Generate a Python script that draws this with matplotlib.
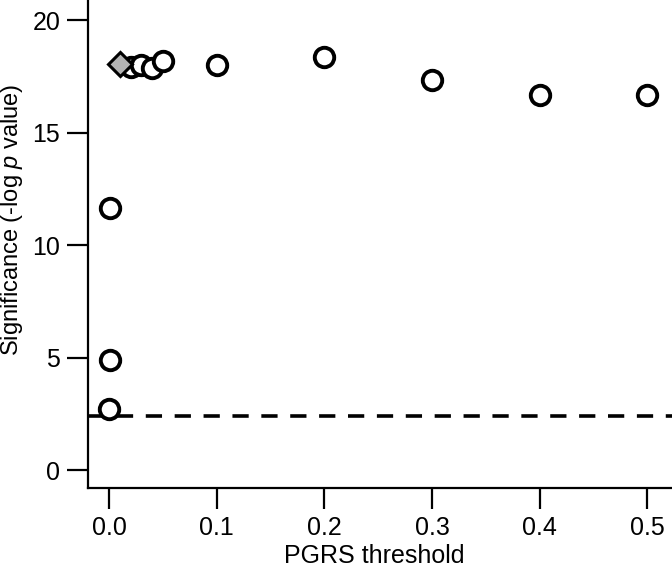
import matplotlib
matplotlib.use('Agg')
from matplotlib import pyplot as plt

plt.rcParams['font.family'] = ['Liberation Sans', 'DejaVu Sans']
plt.rcParams['mathtext.fontset'] = 'custom'
plt.rcParams['mathtext.it'] = 'Liberation Sans:italic'
plt.rcParams['mathtext.rm'] = 'Liberation Sans'

# PGRS thresholds and significance (-log10 p)
thr = [0.0001, 0.0005, 0.001, 0.02, 0.03, 0.04, 0.05, 0.1, 0.2, 0.3, 0.4, 0.5]
sig = [2.71, 4.89, 11.64, 17.9, 18.0, 17.87, 18.2, 18.0, 18.36, 17.33, 16.67, 16.67]
best_thr = [0.01]
best_sig = [18.05]
cutoff = 2.4

fig = plt.figure(figsize=(6.72, 5.69), dpi=100)
ax = fig.add_axes([88/672, 81/569, 584/672, 488/569])

ax.axhline(cutoff, color='black', lw=2.6, ls=(0, (4.5, 3.5)), zorder=1)
ax.plot(thr, sig, 'o', ms=14, mfc='white', mec='black', mew=2.8, zorder=3)
ax.plot(best_thr, best_sig, 'D', ms=12, mfc='#b3b3b3', mec='black', mew=2.2, zorder=4)

ax.set_xlim(-0.0195, 0.523)
ax.set_ylim(-0.8, 20.9)
ax.set_xticks([0.0, 0.1, 0.2, 0.3, 0.4, 0.5])
ax.set_xticklabels(['0.0', '0.1', '0.2', '0.3', '0.4', '0.5'])
ax.set_yticks([0, 5, 10, 15, 20])

for s in ['top', 'right']:
    ax.spines[s].set_visible(False)
for s in ['left', 'bottom']:
    ax.spines[s].set_linewidth(1.6)
ax.tick_params(length=15, width=1.6, labelsize=18, pad=5)

ax.set_xlabel('PGRS threshold', fontsize=18)
ax.set_ylabel('Significance (-log $\\it{p}$ value)', fontsize=17)
ax.xaxis.set_label_coords(0.491, -0.114)
ax.yaxis.set_label_coords(-0.108, 0.549)

fig.savefig('out.png', dpi=100)
